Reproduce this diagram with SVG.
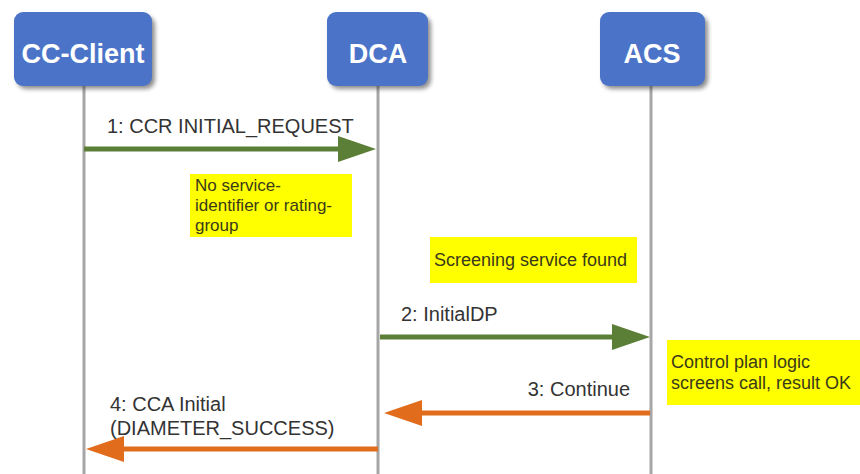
<svg xmlns="http://www.w3.org/2000/svg" width="860" height="474" viewBox="0 0 860 474">
<style>
.box{fill:#4b74c9;}
.shadow{fill:#333;opacity:0.55;}
.title{font-family:"Liberation Sans",Arial,sans-serif;font-weight:bold;font-size:27px;fill:#fff;text-anchor:middle;}
.life{stroke:#a6a6a6;stroke-width:3;}
.lbl{font-family:"Liberation Sans",Arial,sans-serif;font-size:20px;fill:#333;}
.note{fill:#ffff00;}
.nt{font-family:"Liberation Sans",Arial,sans-serif;font-size:18px;fill:#3a3a1a;}
.nt1{font-family:"Liberation Sans",Arial,sans-serif;font-size:17px;fill:#3a3a1a;}
.g{stroke:#5b7f36;stroke-width:5;fill:none;}
.o{stroke:#e06c1c;stroke-width:5;fill:none;}
</style>
<defs>
<filter id="blur" x="-20%" y="-20%" width="140%" height="140%"><feGaussianBlur stdDeviation="2"/></filter>
</defs>
<rect width="860" height="474" fill="#fff"/>
<g id="lifelines">
<line class="life" x1="84" y1="86" x2="84" y2="474"/>
<line class="life" x1="378" y1="86" x2="378" y2="474"/>
<line class="life" x1="651" y1="86" x2="651" y2="474"/>
</g>
<g id="cc-client">
<rect class="shadow" x="17" y="16" width="138" height="73" rx="9" filter="url(#blur)"/>
<rect class="box" x="14" y="12" width="138" height="74" rx="9"/>
<text class="title" x="83" y="63">CC-Client</text>
</g>
<g id="dca">
<rect class="shadow" x="330" y="16" width="101" height="73" rx="9" filter="url(#blur)"/>
<rect class="box" x="327" y="12" width="101" height="74" rx="9"/>
<text class="title" x="378" y="63">DCA</text>
</g>
<g id="acs">
<rect class="shadow" x="603" y="16" width="105" height="73" rx="9" filter="url(#blur)"/>
<rect class="box" x="600" y="12" width="105" height="74" rx="9"/>
<text class="title" x="652" y="63">ACS</text>
</g>
<g id="connectors">
<line class="g" x1="84" y1="149" x2="345" y2="149"/>
<polygon points="338,136 376,149 338,162" fill="#5b7f36"/>
<line class="g" x1="380" y1="337" x2="618" y2="337"/>
<polygon points="612,324 650,337 612,350" fill="#5b7f36"/>
<line class="o" x1="650" y1="413" x2="415" y2="413"/>
<polygon points="422,400 384,413 422,426" fill="#e06c1c"/>
<line class="o" x1="378" y1="449" x2="118" y2="449"/>
<polygon points="124,436 86,449 124,462" fill="#e06c1c"/>
</g>
<g id="labels">
<text class="lbl" x="107" y="133">1: CCR INITIAL_REQUEST</text>
<text class="lbl" x="401" y="321">2: InitialDP</text>
<text class="lbl" x="630" y="396" text-anchor="end">3: Continue</text>
<text class="lbl" x="110" y="411">4: CCA Initial</text>
<text class="lbl" x="110" y="435">(DIAMETER_SUCCESS)</text>
</g>
<g id="note1">
<rect class="note" x="190" y="174" width="162" height="63"/>
<text class="nt1" x="195" y="191">No service-</text>
<text class="nt1" x="195" y="211">identifier or rating-</text>
<text class="nt1" x="195" y="231">group</text>
</g>
<g id="note2">
<rect class="note" x="430" y="237" width="207" height="46"/>
<text class="nt" x="434" y="266">Screening service found</text>
</g>
<g id="note3">
<rect class="note" x="667" y="340" width="193" height="65"/>
<text class="nt" x="671" y="368">Control plan logic</text>
<text class="nt" x="671" y="389">screens call, result OK</text>
</g>
</svg>
